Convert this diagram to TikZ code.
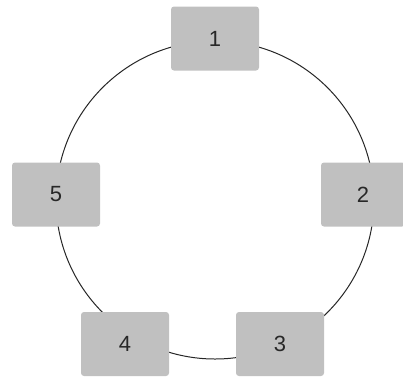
\documentclass[tikz,border=0pt]{standalone}
\usepackage{fontspec}
\setmainfont{Liberation Sans}
\usepackage{tikz}
\definecolor{BoxGray}{RGB}{192,192,192}
\definecolor{LabelGray}{RGB}{40,40,40}

\begin{document}
\begin{tikzpicture}[
    x=1pt, y=-1pt,
    font=\fontsize{22}{26}\selectfont,
    box/.style={fill=BoxGray, rounded corners=3pt, minimum width=88pt, minimum height=64pt, text=LabelGray, inner sep=0pt},
    ring/.style={draw=black!85, line width=1pt}
]
\useasboundingbox (0,0) rectangle (403,378);
\coordinate (centre) at (215,200);
\draw[ring] (centre) circle[radius=159pt];
\node[box] (n1) at (215,38.5) {1};
\node[box, minimum width=84pt] (n2) at (363,194.5) {2};
\node[box] (n3) at (280,344) {3};
\node[box] (n4) at (125,344) {4};
\node[box] (n5) at (56,194.5) {5};
\end{tikzpicture}
\end{document}
